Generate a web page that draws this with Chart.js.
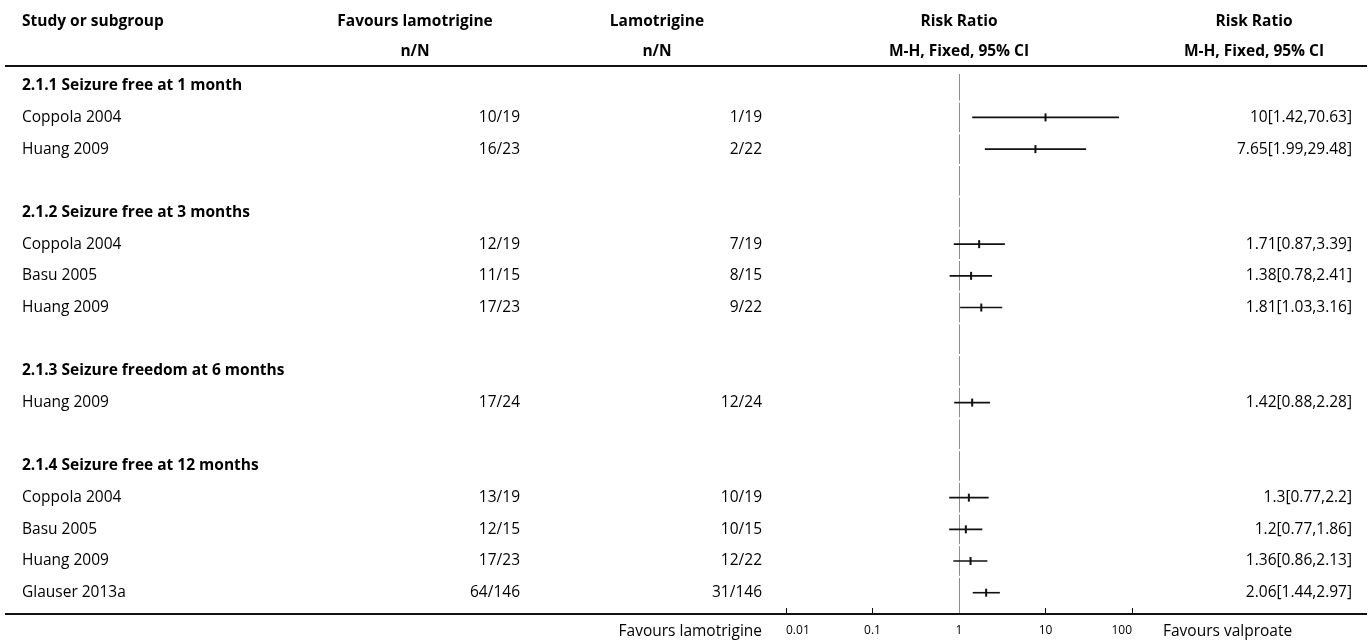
<!DOCTYPE html>
<html>
<head>
<meta charset="utf-8">
<script src="https://cdn.jsdelivr.net/npm/chart.js@4.4.0/dist/chart.umd.min.js"></script>
<style>
body { margin: 0; background: #fff; }
#wrap { width: 1370px; height: 644px; position: relative; }
</style>
</head>
<body>
<div id="wrap"><canvas id="forest"></canvas></div>
<script>
// rows of the table, top to bottom ('' = spacer row)
const ROWS = [
	"2.1.1 Seizure free at 1 month", "Coppola 2004", "Huang 2009", "",
	"2.1.2 Seizure free at 3 months", "Coppola 2004", "Basu 2005", "Huang 2009", "",
	"2.1.3 Seizure freedom at 6 months", "Huang 2009", "",
	"2.1.4 Seizure free at 12 months", "Coppola 2004", "Basu 2005", "Huang 2009", "Glauser 2013a"
];
const HEADINGS = [0, 4, 9, 12];
const GROUP_A = [null, "10/19", "16/23", null, null, "12/19", "11/15", "17/23", null, null, "17/24", null, null, "13/19", "12/15", "17/23", "64/146"];
const GROUP_B = [null, "1/19", "2/22", null, null, "7/19", "8/15", "9/22", null, null, "12/24", null, null, "10/19", "10/15", "12/22", "31/146"];
const RR = [null, 10, 7.65, null, null, 1.71, 1.38, 1.81, null, null, 1.42, null, null, 1.3, 1.2, 1.36, 2.06];
const LOWER = [null, 1.42, 1.99, null, null, 0.87, 0.78, 1.03, null, null, 0.88, null, null, 0.77, 0.77, 0.86, 1.44];
const UPPER = [null, 70.63, 29.48, null, null, 3.39, 2.41, 3.16, null, null, 2.28, null, null, 2.2, 1.86, 2.13, 2.97];
const TICKS = [0.01, 0.1, 1, 10, 100];

const FONT = "'Open Sans', sans-serif";
const SIZE = "15.5px ";

const datasets = [];
RR.forEach((v, i) => {
	if (v === null) return;
	datasets.push({
		data: [{x: LOWER[i], y: i}, {x: UPPER[i], y: i}],
		borderColor: "#111",
		borderWidth: 1.6,
		pointRadius: 0,
		fill: false
	});
});
datasets.push({
	type: 'scatter',
	data: RR.map((v, i) => v === null ? null : {x: v, y: i}).filter(p => p),
	pointStyle: 'line',
	rotation: 90,
	pointRadius: 4,
	borderWidth: 2,
	borderColor: "#111"
});

const tablePlugin = {
	id: 'forestTable',
	beforeDatasetsDraw(chart) {
		const {ctx, scales: {x, y}, chartArea} = chart;
		const px = Math.round(x.getPixelForValue(1)) + 0.5;
		ctx.save();
		ctx.strokeStyle = "#8c8c8c";
		ctx.lineWidth = 1;
		for (let r = 0; r < ROWS.length; r++) {
			const top = r === 0 ? 74 : y.getPixelForValue(r - 0.5) + 1;
			const bot = r === ROWS.length - 1 ? chartArea.bottom : y.getPixelForValue(r + 0.5) - 1;
			ctx.beginPath();
			ctx.moveTo(px, top);
			ctx.lineTo(px, bot);
			ctx.stroke();
		}
		ctx.restore();
	},
	afterDraw(chart) {
		const {ctx, scales: {x, y}, chartArea} = chart;
		const mid = x.getPixelForValue(1);
		ctx.save();
		ctx.fillStyle = "#000";
		ctx.textBaseline = "middle";

		// header
		ctx.font = "bold " + SIZE + FONT;
		ctx.textAlign = "left";
		ctx.fillText("Study or subgroup", 22, 22);
		ctx.textAlign = "center";
		ctx.fillText("Favours lamotrigine", 415, 22);
		ctx.fillText("n/N", 415, 52);
		ctx.fillText("Lamotrigine", 657, 22);
		ctx.fillText("n/N", 657, 52);
		ctx.fillText("Risk Ratio", mid, 22);
		ctx.fillText("M-H, Fixed, 95% CI", mid, 52);
		ctx.fillText("Risk Ratio", 1254, 22);
		ctx.fillText("M-H, Fixed, 95% CI", 1254, 52);

		// rules
		ctx.strokeStyle = "#111";
		ctx.lineWidth = 2;
		ctx.beginPath();
		ctx.moveTo(5, 66); ctx.lineTo(1367, 66);
		ctx.moveTo(5, Math.round(chartArea.bottom)); ctx.lineTo(1367, Math.round(chartArea.bottom));
		ctx.stroke();

		// body rows
		ROWS.forEach((label, i) => {
			const py = y.getPixelForValue(i);
			ctx.textAlign = "left";
			ctx.font = (HEADINGS.includes(i) ? "bold " : "") + SIZE + FONT;
			ctx.fillText(label, 22, py);
			if (RR[i] === null) return;
			ctx.font = SIZE + FONT;
			ctx.textAlign = "right";
			ctx.fillText(GROUP_A[i], 520, py);
			ctx.fillText(GROUP_B[i], 762, py);
			ctx.fillText(RR[i] + "[" + LOWER[i] + "," + UPPER[i] + "]", 1352, py);
		});

		// favours labels
		ctx.font = SIZE + FONT;
		ctx.textAlign = "right";
		ctx.fillText("Favours lamotrigine", 762, chartArea.bottom + 18);
		ctx.textAlign = "left";
		ctx.fillText("Favours valproate", 1163, chartArea.bottom + 18);
		ctx.restore();
	}
};

new Chart(document.getElementById("forest"), {
	type: 'line',
	data: { datasets: datasets },
	options: {
		responsive: true,
		maintainAspectRatio: false,
		animation: false,
		layout: { padding: { left: 786, right: 238, top: 0, bottom: 0 } },
		plugins: { legend: { display: false }, tooltip: { enabled: false } },
		scales: {
			x: {
				type: 'logarithmic',
				min: 0.01,
				max: 100,
				afterBuildTicks: s => { s.ticks = TICKS.map(v => ({value: v})); },
				afterFit: s => { s.height = 30; },
				border: { display: false },
				grid: { drawOnChartArea: false, drawTicks: true, tickLength: -6, color: "#111", lineWidth: 1 },
				ticks: {
					align: 'inner',
					maxRotation: 0,
					padding: 15,
					color: "#000",
					font: { family: FONT, size: 12 },
					callback: v => String(v)
				}
			},
			y: {
				type: 'linear',
				reverse: true,
				display: false,
				min: -2.516,
				max: 16.672
			}
		}
	},
	plugins: [tablePlugin]
});
</script>
</body>
</html>
